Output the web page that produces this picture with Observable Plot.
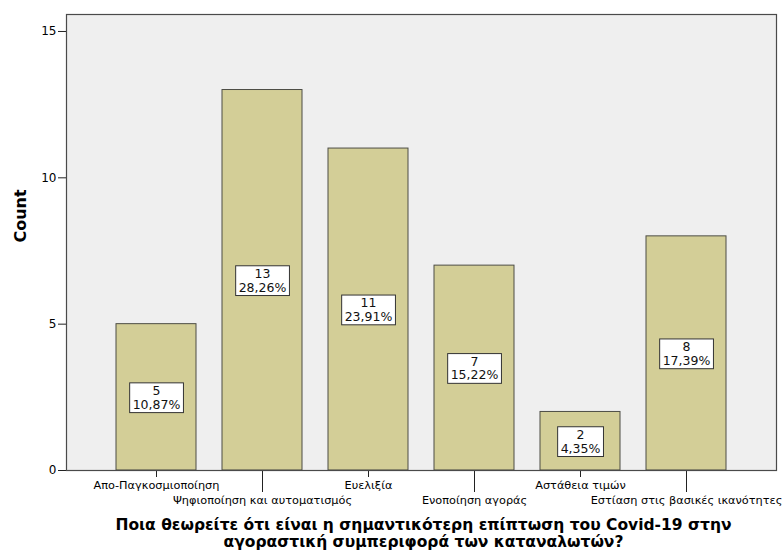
<!DOCTYPE html>
<html>
<head>
<meta charset="utf-8">
<script src="https://cdn.jsdelivr.net/npm/d3@7"></script>
<script src="https://cdn.jsdelivr.net/npm/@observablehq/plot@0.6"></script>
<style>
  body { margin: 0; background: #ffffff; }
  #chart svg { display: block; }
</style>
</head>
<body>
<div id="chart"></div>
<script>
// Answers to the survey question and how many respondents chose each one
const categories = [
  "Απο-Παγκοσμιοποίηση",
  "Ψηφιοποίηση και αυτοματισμός",
  "Ευελιξία",
  "Ενοποίηση αγοράς",
  "Αστάθεια τιμών",
  "Εστίαση στις βασικές ικανότητες"
];
const counts = [5, 13, 11, 7, 2, 8];
const yTicks = [0, 5, 10, 15];
const xTitle = "Ποια θεωρείτε ότι είναι η σημαντικότερη επίπτωση του Covid-19 στην\nαγοραστική συμπεριφορά των καταναλωτών?";
const yTitle = "Count";

const total = d3.sum(counts);
const pct = d => (d3.format(".2f")(d / total * 100)).replace(".", ",") + "%";
const rows = categories.map((c, i) => ({category: c, count: counts[i], index: i}));

const font = "DejaVu Sans, Verdana, sans-serif";

const chart = Plot.plot({
  width: 783,
  height: 551,
  marginLeft: 66,
  marginRight: 7,
  marginTop: 14,
  marginBottom: 81,
  style: {fontFamily: font, fontSize: "12px", color: "#000", background: "#fff"},
  x: {domain: categories, paddingInner: 0.25, paddingOuter: 0.46, axis: null},
  y: {domain: [0, 15.58], axis: null},
  marks: [
    Plot.frame({fill: "#efefef"}),
    Plot.barY(rows, {x: "category", y: "count", fill: "#d3ce97", stroke: "#4d4d45", strokeWidth: 1}),
    Plot.text(rows, {
      x: "category",
      y: d => d.count / 2,
      text: d => `${d.count}\n${pct(d.count)}`,
      fontSize: 12.5,
      lineHeight: 1.1,
      fill: "#111"
    }),
    // staggered category labels: first row with short ticks, second row with long ticks
    Plot.axisX({
      ticks: categories.filter((_, i) => i % 2 === 0),
      tickSize: 7, tickPadding: 3, label: null, fontSize: 11.3, stroke: "#222"
    }),
    Plot.axisX({
      ticks: categories.filter((_, i) => i % 2 === 1),
      tickSize: 22, tickPadding: 3, label: null, fontSize: 11.3, stroke: "#222"
    }),
    Plot.axisY({ticks: yTicks, tickSize: 8, tickPadding: 2, label: null, fontSize: 12, stroke: "#222"}),
    Plot.text([xTitle], {
      frameAnchor: "bottom", dx: 2, dy: 47, lineAnchor: "top",
      fontSize: 15.5, fontWeight: "bold", lineHeight: 1.1, fill: "#000"
    }),
    Plot.text([yTitle], {
      frameAnchor: "left", dx: -46, rotate: -90,
      fontSize: 16, fontWeight: "bold", fill: "#000"
    }),
    Plot.frame({stroke: "#4a4a4a", strokeWidth: 1.2})
  ]
});

document.getElementById("chart").append(chart);

// white boxes behind the count / percentage labels, sized to each text
d3.select(chart).selectAll("text")
  .filter(function() { return this.textContent.includes("%") && this.querySelector("tspan"); })
  .each(function() {
    const b = this.getBBox();
    const rect = document.createElementNS("http://www.w3.org/2000/svg", "rect");
    rect.setAttribute("x", b.x - 3);
    rect.setAttribute("y", b.y);
    rect.setAttribute("width", b.width + 6);
    rect.setAttribute("height", b.height + 1);
    rect.setAttribute("fill", "#ffffff");
    rect.setAttribute("stroke", "#333");
    rect.setAttribute("stroke-width", 1);
    const t = this.getAttribute("transform");
    if (t) rect.setAttribute("transform", t);
    this.parentNode.insertBefore(rect, this);
  });
</script>
</body>
</html>
